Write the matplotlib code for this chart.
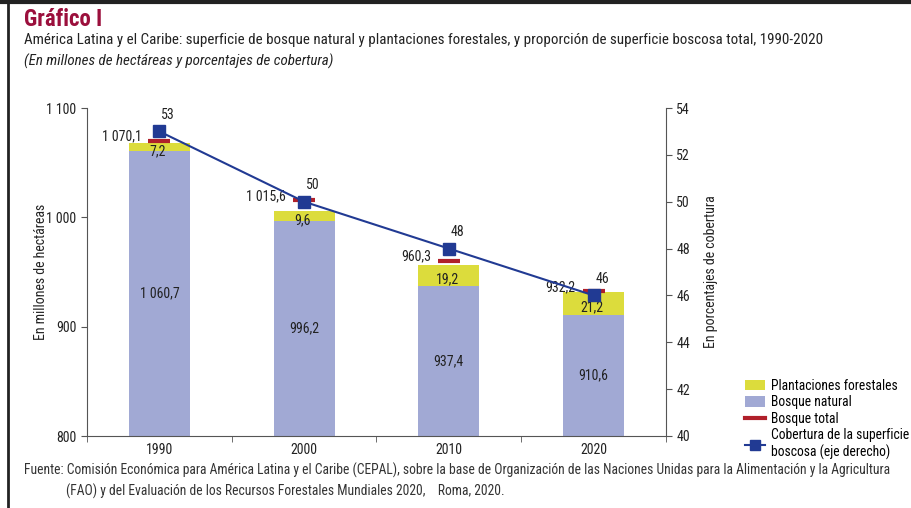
import matplotlib.pyplot as plt
from matplotlib.lines import Line2D
from matplotlib.patches import Patch
import numpy as np

plt.rcParams['font.family'] = ['Roboto Condensed', 'DejaVu Sans']

years = ['1990', '2000', '2010', '2020']
bosque_natural = [1060.7, 996.2, 937.4, 910.6]
plantaciones = [7.2, 9.6, 19.2, 21.2]
bosque_total = [1070.1, 1015.6, 960.3, 932.2]
cobertura = [53, 50, 48, 46]

c_natural = '#a1a9d4'
c_plant = '#dcdc3c'
c_total = '#b0202a'
c_cob = '#213a93'
c_title = '#9b0f3c'
c_txt = '#222222'


def fmt(v):
    # 1 070,1 style
    return f'{v:,.1f}'.replace(',', ' ').replace('.', ',')


fig = plt.figure(figsize=(9.12, 5.08), dpi=100)
ax = fig.add_axes([87 / 912, 1 - 436 / 508, (666 - 87) / 912, (436 - 108) / 508])
ax2 = ax.twinx()

x = np.arange(len(years))
w = 0.42
ax.bar(x, bosque_natural, w, color=c_natural, zorder=2)
ax.bar(x, plantaciones, w, bottom=bosque_natural, color=c_plant, zorder=2)
ax.plot(x, bosque_total, ls='none', marker='_', ms=16, mew=3, color=c_total, zorder=3)

ax.set_ylim(800, 1100)
ax.set_xlim(-0.5, 3.5)
ax.set_yticks([800, 900, 1000, 1100])
ax.set_yticklabels(['800', '900', '1 000', '1 100'])
ax.set_xticks(x)
ax.set_xticklabels(years)
ax.set_xticks(np.arange(-0.5, 4, 1), minor=True)
ax.tick_params(axis='x', which='major', length=0, labelsize=10, pad=5, labelcolor=c_txt)
ax.tick_params(axis='x', which='minor', length=4, direction='out', color='#555555')
ax.tick_params(axis='y', length=4, labelsize=10, color='#555555', labelcolor=c_txt)
ax.set_ylabel('En millones de hectáreas', fontsize=10, labelpad=-1, color=c_txt)

ax.spines['top'].set_visible(False)
ax.spines['right'].set_visible(False)
ax2.spines['top'].set_visible(False)
for sp in ['left', 'bottom']:
    ax.spines[sp].set_color('#555555')
ax2.spines['right'].set_color('#555555')
ax2.spines['left'].set_visible(False)
ax2.spines['bottom'].set_visible(False)

for i in range(len(years)):
    ax.text(x[i], (800 + bosque_natural[i]) / 2, fmt(bosque_natural[i]),
            ha='center', va='center', fontsize=10, color=c_txt, zorder=5)
    ax.annotate(fmt(plantaciones[i]), (x[i], bosque_natural[i] + plantaciones[i] / 2),
                xytext=(-1, -3), textcoords='offset points',
                ha='center', va='center', fontsize=10, color=c_txt, zorder=5)
    ax.annotate(fmt(bosque_total[i]), (x[i], bosque_total[i]),
                xytext=(-13, 3), textcoords='offset points',
                ha='right', va='center', fontsize=10, color=c_txt, zorder=5)

ax2.plot(x, cobertura, color=c_cob, lw=1.5, marker='s', ms=9, zorder=4)
ax2.set_ylim(40, 54)
ax2.set_yticks(np.arange(40, 55, 2))
ax2.tick_params(axis='y', length=4, labelsize=10, color='#555555', labelcolor=c_txt)
ax2.set_ylabel('En porcentajes de cobertura', fontsize=10, labelpad=10, color=c_txt)
for i in range(len(years)):
    ax2.annotate(str(cobertura[i]), (x[i], cobertura[i]), xytext=(6, 12),
                 textcoords='offset points', ha='center', va='center',
                 fontsize=10, color=c_txt)

handles = [
    Patch(facecolor=c_plant),
    Patch(facecolor=c_natural),
    Line2D([], [], color=c_total, lw=3),
    Line2D([], [], color=c_cob, lw=1.5, marker='s', ms=7),
]
labels = ['Plantaciones forestales', 'Bosque natural', 'Bosque total',
          'Cobertura de la superficie\nboscosa (eje derecho)']
fig.legend(handles, labels, loc='upper left', bbox_to_anchor=(738 / 912, 1 - 372 / 508),
           frameon=False, fontsize=9.8, handlelength=1.5, handleheight=0.8,
           handletextpad=0.45, labelspacing=0.18, borderpad=0)

fig.text(24 / 912, 1 - 19 / 508, 'Gráfico I', fontsize=16.5, fontweight='bold',
         color=c_title, va='center')
fig.text(24 / 912, 1 - 40 / 508,
         'América Latina y el Caribe: superficie de bosque natural y plantaciones forestales, '
         'y proporción de superficie boscosa total, 1990-2020',
         fontsize=10.8, va='center', color=c_txt)
fig.text(24 / 912, 1 - 61 / 508, '(En millones de hectáreas y porcentajes de cobertura)',
         fontsize=10.8, style='italic', va='center', color=c_txt)
fig.text(24 / 912, 1 - 470 / 508,
         'Fuente: Comisión Económica para América Latina y el Caribe (CEPAL), sobre la base de '
         'Organización de las Naciones Unidas para la Alimentación y la Agricultura',
         fontsize=9.8, va='center', color='#333333')
fig.text(66 / 912, 1 - 491 / 508,
         '(FAO) y del Evaluación de los Recursos Forestales Mundiales 2020,    Roma, 2020.',
         fontsize=9.8, va='center', color='#333333')

fig.add_artist(Line2D([0, 1], [0.996, 0.996], color=c_txt, lw=3, transform=fig.transFigure))
fig.add_artist(Line2D([8.5 / 912, 8.5 / 912], [0, 1], color=c_txt, lw=2, transform=fig.transFigure))

fig.savefig('out.png', dpi=100)
